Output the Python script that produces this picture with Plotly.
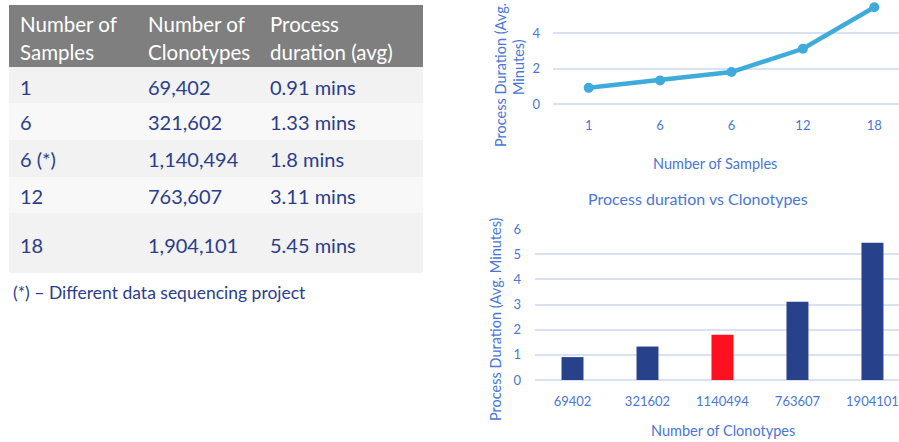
import plotly.graph_objects as go

# ---- data ----
samples = ["1", "6", "6 (*)", "12", "18"]
sample_ticks = ["1", "6", "6", "12", "18"]
clonotypes = [69402, 321602, 1140494, 763607, 1904101]
duration_min = [0.91, 1.33, 1.8, 3.11, 5.45]
highlight = [False, False, True, False, False]
header = [["Number of", "Samples"], ["Number of", "Clonotypes"], ["Process", "duration (avg)"]]
footnote = "(*) \u2013 Different data sequencing project"

W, H = 899, 442
FONT = "Lato"
NAVY = "#2b3d8c"
AXBLUE = "#4a76d6"
GRID = "#d9e1f2"
LINE = "#3fabdb"
BAR = "#27418a"
RED = "#ff1020"


def px(x):
    return x / W


def py(y):
    return 1 - y / H


fig = go.Figure()
shapes = []
ann = []

# ---- table ----
tx0, tx1 = 9, 423
shapes.append(dict(type="rect", xref="paper", yref="paper", x0=px(tx0), x1=px(tx1),
                   y0=py(67), y1=py(5), fillcolor="#7f7f7f", line_width=0, layer="below"))
row_edges = [67, 103, 140, 177, 213, 273]
row_fill = ["#f2f2f2", "#f8f8f8", "#f2f2f2", "#f8f8f8", "#f2f2f2"]
for i in range(5):
    shapes.append(dict(type="rect", xref="paper", yref="paper", x0=px(tx0), x1=px(tx1),
                       y0=py(row_edges[i + 1]), y1=py(row_edges[i]),
                       fillcolor=row_fill[i], line_width=0, layer="below"))

col_x = [18, 146, 268]
for c, lines in enumerate(header):
    for j, t in enumerate(lines):
        ann.append(dict(text=t, x=px(col_x[c]), y=py(24 + 28 * j), xref="paper", yref="paper",
                        xanchor="left", yanchor="middle", showarrow=False,
                        font=dict(family=FONT, size=20.5, color="white")))

row_y = [87, 122, 159, 196, 245]
for i in range(5):
    cells = [samples[i], f"{clonotypes[i]:,}", f"{duration_min[i]} mins"]
    for c, t in enumerate(cells):
        ann.append(dict(text=t, x=px(col_x[c]), y=py(row_y[i]), xref="paper", yref="paper",
                        xanchor="left", yanchor="middle", showarrow=False,
                        font=dict(family=FONT, size=20, color=NAVY)))

ann.append(dict(text=footnote, x=px(11), y=py(292), xref="paper", yref="paper",
                xanchor="left", yanchor="middle", showarrow=False,
                font=dict(family=FONT, size=17.5, color=NAVY)))

# ---- line chart: duration vs number of samples ----
fig.add_trace(go.Scatter(x=list(range(5)), y=duration_min, mode="lines+markers",
                         line=dict(color=LINE, width=4.5), marker=dict(color=LINE, size=10),
                         xaxis="x", yaxis="y", showlegend=False, hoverinfo="skip"))

# ---- bar chart: duration vs clonotypes ----
fig.add_trace(go.Bar(x=list(range(5)), y=duration_min,
                     marker=dict(color=[RED if h else BAR for h in highlight], line_width=0),
                     width=0.293, xaxis="x2", yaxis="y2", showlegend=False, hoverinfo="skip"))

tick_font = dict(family=FONT, size=13, color=AXBLUE)
fig.update_layout(
    width=W, height=H, margin=dict(l=0, r=0, t=0, b=0, autoexpand=False),
    paper_bgcolor="white", plot_bgcolor="white",
    shapes=shapes, annotations=ann,
    xaxis=dict(domain=[px(553), 1], range=[-0.5, 4.346], tickmode="array",
               tickvals=list(range(5)), ticktext=sample_ticks, showgrid=False,
               zeroline=False, showline=False, tickfont=tick_font, ticklabelstandoff=12,
               anchor="y", automargin=False),
    yaxis=dict(domain=[py(104), 1], range=[0, 104 / 17.75], dtick=2, showgrid=True,
               gridcolor=GRID, gridwidth=1.5, zeroline=True, zerolinecolor=GRID,
               zerolinewidth=1.5, showline=False, tickfont=tick_font,
               ticklabelstandoff=12, anchor="x", automargin=False),
    xaxis2=dict(domain=[px(535), 1], range=[-0.5, 4.354], tickmode="array",
                tickvals=list(range(5)), ticktext=[str(v) for v in clonotypes],
                showgrid=False, zeroline=False, showline=False, tickfont=tick_font,
                ticklabelstandoff=12, anchor="y2", automargin=False),
    yaxis2=dict(domain=[py(380), py(229)], range=[0, 6], dtick=1, showgrid=True,
                gridcolor=GRID, gridwidth=1.5, zeroline=True, zerolinecolor=GRID,
                zerolinewidth=1.5, showline=False, tickfont=tick_font,
                ticklabelstandoff=13, anchor="x2", automargin=False),
)

title_font = dict(family=FONT, size=14.5, color=AXBLUE)
extra = [
    dict(text="Process Duration (Avg.", x=px(500), y=py(1), yanchor="top", textangle=-90),
    dict(text="Minutes)", x=px(518), y=py(67), textangle=-90),
    dict(text="Number of Samples", x=px(715), y=py(163), textangle=0),
    dict(text="Process duration vs Clonotypes", x=px(698), y=py(199), textangle=0,
         font=dict(family=FONT, size=16, color=AXBLUE)),
    dict(text="Process Duration (Avg. Minutes)", x=px(495), y=py(319), textangle=-90),
    dict(text="Number of Clonotypes", x=px(723), y=py(430), textangle=0),
]
for a in extra:
    a.setdefault("font", title_font)
    a.setdefault("yanchor", "middle")
    fig.add_annotation(xref="paper", yref="paper", xanchor="center",
                       showarrow=False, **a)

fig.write_html("out.html")
